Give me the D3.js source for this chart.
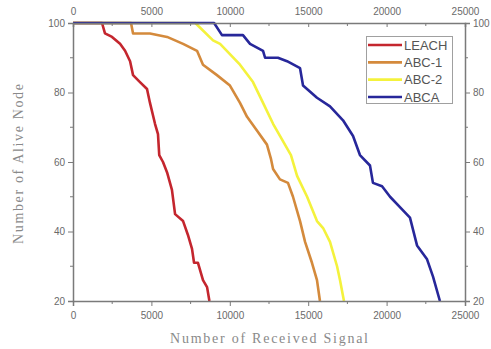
<!DOCTYPE html>
<html>
<head>
<meta charset="utf-8">
<script src="https://cdn.jsdelivr.net/npm/d3@7"></script>
<style>
  body { margin: 0; background: #fff; }
  svg { display: block; }
</style>
</head>
<body>
<div id="chart"></div>
<script>
const width = 491;
const height = 349;
const margin = { top: 23, right: 26, bottom: 48, left: 73 };

const seriesNames = ["LEACH", "ABC-1", "ABC-2", "ABCA"];
const seriesColors = ["#c4262e", "#d48a3c", "#f4f23c", "#27279a"];

const leachX = [0, 1850, 2040, 2490, 3000, 3320, 3640, 3830, 4270, 4720, 4910, 5230, 5420, 5500, 5740, 6000, 6310, 6510, 7020, 7330, 7590, 7720, 7970, 8290, 8550, 8700];
const leachY = [100, 100, 97, 96, 94, 92, 89, 85, 83, 81, 77, 71, 68, 62, 60, 57, 52, 45, 43, 39, 35, 31, 31, 26, 24, 20];

const abc1X = [0, 3700, 3830, 4910, 6000, 7020, 7910, 8290, 9180, 10010, 10650, 11100, 11740, 12370, 12620, 12760, 13200, 13710, 14030, 14480, 14800, 15240, 15560, 15750];
const abc1Y = [100, 100, 97, 97, 96, 94, 92, 88, 85, 82, 77, 73, 69, 65, 61, 58, 55, 54, 50, 43, 37, 31, 26, 20];

const abc2X = [0, 7800, 8930, 9380, 10650, 11480, 12120, 12760, 13390, 13900, 14290, 14930, 15560, 15950, 16390, 16840, 17030, 17280];
const abc2Y = [100, 100, 95, 94, 88, 83, 77, 71, 66, 62, 56, 50, 43, 41, 37, 30, 26, 20];

const abcaX = [0, 9000, 9500, 10840, 11290, 12120, 12250, 13070, 13650, 14480, 14670, 15560, 16390, 17220, 17860, 18300, 18940, 19130, 19710, 20220, 20850, 21490, 21940, 22580, 22960, 23400];
const abcaY = [100, 100, 96.5, 96.5, 94, 92, 90, 90, 89, 87, 82, 78.5, 76, 72, 67.5, 62, 59, 54, 53, 50, 47, 44, 36, 32, 27, 20];

const xTicks = [0, 5000, 10000, 15000, 20000, 25000];
const yTicks = [20, 40, 60, 80, 100];
const xMinor = [2500, 7500, 12500, 17500, 22500];
const yMinor = [30, 50, 70, 90];

const seriesX = [leachX, abc1X, abc2X, abcaX];
const seriesY = [leachY, abc1Y, abc2Y, abcaY];

const axisColor = "#7a7a7a";
const textColor = "#6a6a6a";

const svg = d3.select("#chart").append("svg")
  .attr("width", width)
  .attr("height", height);

const x = d3.scaleLinear().domain([0, 25000]).range([margin.left, width - margin.right]);
const y = d3.scaleLinear().domain([20, 100]).range([height - margin.bottom, margin.top]);

const line = d3.line()
  .x(d => x(d[0]))
  .y(d => y(d[1]));

// series
seriesNames.forEach((name, i) => {
  const pts = seriesX[i].map((v, j) => [v, seriesY[i][j]]);
  svg.append("path")
    .datum(pts)
    .attr("fill", "none")
    .attr("stroke", seriesColors[i])
    .attr("stroke-width", 2.6)
    .attr("stroke-linejoin", "round")
    .attr("d", line);
});

// axes
function styleAxis(g) {
  g.select(".domain").attr("stroke", axisColor).attr("stroke-width", 1.5);
  g.selectAll(".tick line").attr("stroke", axisColor);
  g.selectAll(".tick text")
    .attr("fill", textColor)
    .style("font-family", "Liberation Sans, Arial, sans-serif")
    .style("font-size", "10px");
}

const fmt = d3.format("d");

svg.append("g")
  .attr("transform", `translate(0,${y(20)})`)
  .call(d3.axisBottom(x).tickValues(xTicks).tickFormat(fmt).tickSize(5).tickPadding(6))
  .call(styleAxis);

svg.append("g")
  .attr("transform", `translate(0,${y(100)})`)
  .call(d3.axisTop(x).tickValues(xTicks).tickFormat(fmt).tickSize(-4).tickPadding(8))
  .call(styleAxis);

svg.append("g")
  .attr("transform", `translate(${x(0)},0)`)
  .call(d3.axisLeft(y).tickValues(yTicks).tickFormat(fmt).tickSize(5).tickPadding(3))
  .call(styleAxis);

svg.append("g")
  .attr("transform", `translate(${x(25000)},0)`)
  .call(d3.axisRight(y).tickValues(yTicks).tickFormat(fmt).tickSize(5).tickPadding(3))
  .call(styleAxis);

// minor ticks
svg.append("g").selectAll("line.mxb")
  .data(xMinor).join("line")
  .attr("x1", d => x(d)).attr("x2", d => x(d))
  .attr("y1", y(20)).attr("y2", y(20) + 3)
  .attr("stroke", axisColor);
svg.append("g").selectAll("line.mxt")
  .data(xMinor).join("line")
  .attr("x1", d => x(d)).attr("x2", d => x(d))
  .attr("y1", y(100)).attr("y2", y(100) + 3)
  .attr("stroke", axisColor);
svg.append("g").selectAll("line.myl")
  .data(yMinor).join("line")
  .attr("x1", x(0) - 3).attr("x2", x(0))
  .attr("y1", d => y(d)).attr("y2", d => y(d))
  .attr("stroke", axisColor);
svg.append("g").selectAll("line.myr")
  .data(yMinor).join("line")
  .attr("x1", x(25000)).attr("x2", x(25000) + 3)
  .attr("y1", d => y(d)).attr("y2", d => y(d))
  .attr("stroke", axisColor);

// axis titles
svg.append("text")
  .attr("x", 269)
  .attr("y", 343)
  .attr("text-anchor", "middle")
  .attr("textLength", 198)
  .attr("lengthAdjust", "spacing")
  .attr("fill", "#8a8a8a")
  .style("font-family", "Liberation Serif, serif")
  .style("font-size", "14px")
  .text("Number of Received Signal");

svg.append("text")
  .attr("transform", "translate(23,164) rotate(-90)")
  .attr("text-anchor", "middle")
  .attr("textLength", 160)
  .attr("lengthAdjust", "spacing")
  .attr("fill", "#8a8a8a")
  .style("font-family", "Liberation Serif, serif")
  .style("font-size", "14px")
  .text("Number of Alive Node");

// legend
const legend = svg.append("g");
legend.append("rect")
  .attr("x", 366.5).attr("y", 36.5)
  .attr("width", 86).attr("height", 67)
  .attr("fill", "#fff")
  .attr("stroke", "#a0a0a0");

const rowY = d3.scalePoint().domain(seriesNames).range([45, 97]);

const items = legend.selectAll(".legend")
  .data(seriesNames)
  .join("g")
  .attr("class", "legend");

items.append("line")
  .attr("x1", 368).attr("x2", 402)
  .attr("y1", d => rowY(d)).attr("y2", d => rowY(d))
  .attr("stroke", (d, i) => seriesColors[i])
  .attr("stroke-width", 2.6);

items.append("text")
  .attr("x", 404)
  .attr("y", d => rowY(d))
  .attr("dy", "0.36em")
  .attr("fill", "#555")
  .style("font-family", "Liberation Sans, Arial, sans-serif")
  .style("font-size", "13px")
  .text(d => d);
</script>
</body>
</html>
